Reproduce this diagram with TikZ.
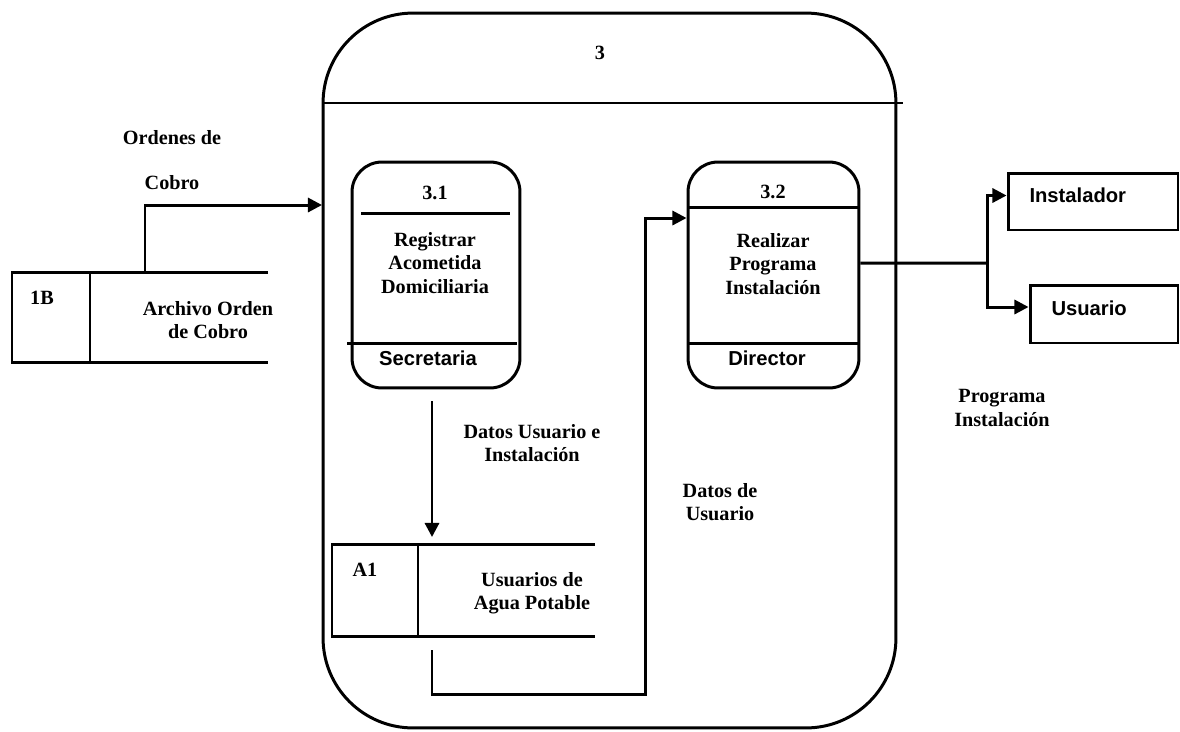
\documentclass[tikz,border=0pt]{standalone}
\usepackage{fontspec}
\setmainfont{Liberation Serif}
\setsansfont{Liberation Sans}
\usetikzlibrary{arrows.meta}

\begin{document}
\begin{tikzpicture}[x=0.02cm, y=-0.02cm, line width=1.7pt,
  proc/.style={draw, rounded corners=0.6cm, minimum width=3.36cm, minimum height=4.52cm},
  ent/.style={draw, font=\fontsize{11.5}{13.3}\selectfont\sffamily\bfseries, align=left, text depth=7pt, inner xsep=0.43cm},
  lbl/.style={font=\fontsize{11.5}{13.3}\selectfont\bfseries, align=center},
  slbl/.style={font=\fontsize{11.5}{13.3}\selectfont\sffamily\bfseries},
  flow/.style={-{Triangle[length=8pt,width=8pt]}}]

\useasboundingbox (0,0) rectangle (1180,731);

% proceso 3
\node [draw, rounded corners=1.8cm, minimum width=11.46cm, minimum height=14.3cm] (big) at (609.5,370.5) {};
\draw (323,103) -- (903,103);
\node [lbl] (l3) at (600,53) {3};

% 3.1
\node [proc] (p31) at (436,275) {};
\draw (361,213) -- (510,213);
\draw (347,343) -- (517,343);
\node [lbl] (n31) at (435,193) {3.1};
\node [lbl] (t31) at (435,263) {Registrar\\Acometida\\Domiciliaria};
\node [slbl] (r31) at (428,358) {Secretaria};

% 3.2
\node [proc, minimum width=3.42cm] (p32) at (773.5,275) {};
\draw (688,207) -- (859,207);
\draw (688,343) -- (859,343);
\node [lbl] (n32) at (773,192) {3.2};
\node [lbl] (t32) at (773,264) {Realizar\\Programa\\Instalación};
\node [slbl] (r32) at (767,358) {Director};

% almacen 1B
\draw (268,272) -- (12,272) -- (12,362) -- (268,362);
\draw (90,272) -- (90,362);
\node [lbl] (id1b) at (42,298) {1B};
\node [lbl] (s1b) at (208,320) {Archivo Orden\\de Cobro};

% almacen A1
\draw (595,544) -- (332,544) -- (332,636) -- (595,636);
\draw (418,544) -- (418,636);
\node [lbl] (ida1) at (365,570) {A1};
\node [lbl] (sa1) at (532,593) {Usuarios de\\Agua Potable};

% entidades
\node [ent, text width=2.54cm, minimum height=1.14cm] (inst) at (1093,201.5) {Instalador};
\node [ent, text width=2.1cm, minimum height=1.16cm] (usr) at (1104,314) {Usuario};

% flujos
\coordinate (o1b) at (145,272);
\coordinate (i3) at (322,205);
\draw [flow] (o1b) |- (i3);
\node [lbl] (lcobro) at (172,160) {Ordenes de\\[12.7pt]Cobro};

\coordinate (a1in) at (432,537);
\draw [flow] (p31.south) ++(-4,12) -- (a1in);
\node [lbl] (ldui) at (532,443) {Datos Usuario e\\Instalación};

\coordinate (a1out) at (432,650);
\coordinate (bend) at (645,694);
\draw [flow] (a1out) |- (bend) |- ([yshift=1.14cm]p32.west);
\node [lbl] (ldu) at (720,502) {Datos de\\Usuario};

\coordinate (fork) at (987,263);
\draw ([yshift=0.24cm]p32.east) -- (fork);
\draw [flow] (fork) |- ([yshift=0.12cm]inst.west);
\draw [flow] (fork) |- ([yshift=0.14cm]usr.west);
\node [lbl] (lpi) at (1002,408) {Programa\\Instalación};

\end{tikzpicture}
\end{document}
